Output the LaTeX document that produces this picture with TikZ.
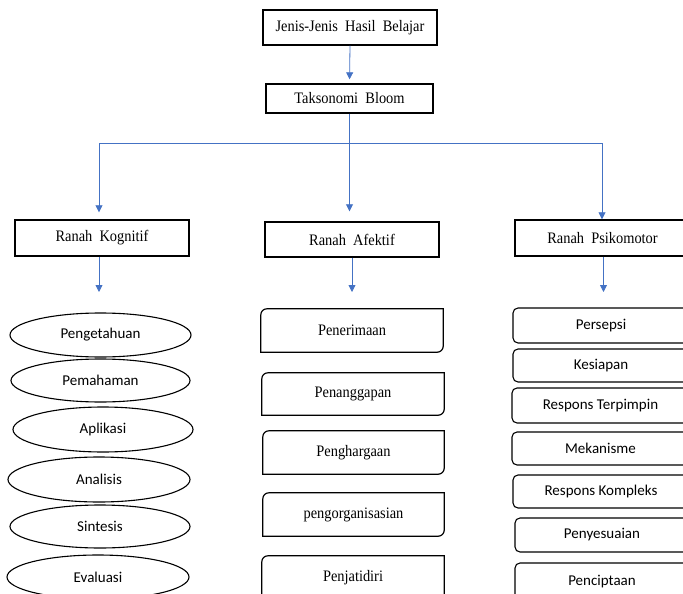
\documentclass[tikz,border=0pt]{standalone}
\usepackage{fontspec}
\setmainfont{Liberation Serif}[FakeStretch=0.9]
\newfontfamily\calibri{Carlito}
\usetikzlibrary{shapes.geometric,arrows.meta}
\definecolor{connblue}{RGB}{68,114,196}
\begin{document}
\begin{tikzpicture}[x=1pt,y=-1pt,
  serifbox/.style={draw=black,line width=1.4pt,inner sep=0pt,font=\fontsize{16}{18}\selectfont},
  ovalnode/.style={ellipse,draw=black,line width=1.1pt,inner sep=0pt,font=\calibri\fontsize{15}{17}\selectfont},
  diagnode/.style={draw=none,inner sep=0pt,font=\fontsize{16}{18}\selectfont},
  diagline/.style={draw=black,line width=1.2pt,rounded corners=6pt,line cap=rect},
  roundnode/.style={draw=black,line width=1.1pt,rounded corners=5pt,inner sep=0pt,font=\calibri\fontsize{15}{17}\selectfont},
  link/.style={draw=connblue,line width=0.8pt},
  arrowlink/.style={link,-{Triangle[width=7pt,length=7pt]}},
]
\useasboundingbox (0,0) rectangle (683,594);
\clip (0,0) rectangle (683,594);

% top
\node[serifbox,minimum width=174pt,minimum height=35pt] (jenis) at (350,27.5) {Jenis-Jenis~ Hasil~ Belajar};
\node[serifbox,minimum width=167pt,minimum height=29pt] (takso) at (349.5,98.5) {Taksonomi~ Bloom};

% domains
\node[serifbox,minimum width=174pt,minimum height=36pt] (kog) at (102,238) {Ranah~ Kognitif};
\node[serifbox,minimum width=174pt,minimum height=35pt] (afek) at (352,239.5) {Ranah~ Afektif};
\node[serifbox,minimum width=175pt,minimum height=36pt] (psi) at (602.5,238) {Ranah~ Psikomotor};

% bus coordinates
\coordinate (bL) at (99,143);
\coordinate (bM) at (349.5,143);
\coordinate (bR) at (602,143);
\coordinate (kogEnd) at (99,292);
\coordinate (afekEnd) at (352,292);
\coordinate (psiEnd) at (603.5,292);

% connectors
\draw[arrowlink,shorten >=4pt] (jenis.south) -- (takso.south |- takso.north);
\draw[link] (takso.south) -- (bM);
\draw[link] (bL) -- (bR);
\draw[arrowlink,shorten >=7pt] (bL) -- (bL |- kog.north);
\draw[arrowlink,shorten >=10pt] (bM) -- (bM |- afek.north);
\draw[arrowlink] (bR) -- (bR |- psi.north);
\draw[arrowlink] (kogEnd |- kog.south) -- (kogEnd);
\draw[arrowlink] (afekEnd |- afek.south) -- (afekEnd);
\draw[arrowlink] (psiEnd |- psi.south) -- (psiEnd);

% cognitive ellipses
\node[ovalnode,minimum width=181pt,minimum height=44pt] (c1) at (100.5,335) {Pengetahuan};
\node[ovalnode,minimum width=179pt,minimum height=43pt] (c2) at (100.5,380.5) {Pemahaman};
\node[ovalnode,minimum width=180pt,minimum height=45pt] (c3) at (103,429.5) {Aplikasi};
\node[ovalnode,minimum width=182pt,minimum height=45pt] (c4) at (99,479.5) {Analisis};
\node[ovalnode,minimum width=180pt,minimum height=43pt] (c5) at (100,526.5) {Sintesis};
\node[ovalnode,minimum width=182pt,minimum height=44pt] (c6) at (98,577) {Evaluasi};

% affective boxes
\node[diagnode,minimum width=182pt,minimum height=43pt] (a1) at (352,330.5) {Penerimaan};
\node[diagnode,minimum width=182pt,minimum height=42pt] (a2) at (353,394) {Penanggapan};
\node[diagnode,minimum width=181pt,minimum height=43pt] (a3) at (353.5,452.5) {Penghargaan};
\node[diagnode,minimum width=181pt,minimum height=43pt] (a4) at (353.5,514.5) {pengorganisasian};
\node[diagnode,minimum width=182pt,minimum height=44pt] (a5) at (353,578) {Penjatidiri};
\foreach \n in {a1,a2,a3,a4,a5}{
  \draw[diagline] (\n.south west) -- (\n.north west) -- (\n.north east);
  \draw[diagline] (\n.north east) -- (\n.south east) -- (\n.south west);
}

% psychomotor boxes
\node[roundnode,minimum width=176pt,minimum height=35pt] (p1) at (601,325.5) {Persepsi};
\node[roundnode,minimum width=176pt,minimum height=33pt] (p2) at (601,365.5) {Kesiapan};
\node[roundnode,minimum width=177pt,minimum height=35pt] (p3) at (600.5,405.5) {Respons Terpimpin};
\node[roundnode,minimum width=177pt,minimum height=33pt] (p4) at (600.5,448.5) {Mekanisme};
\node[roundnode,minimum width=176pt,minimum height=33pt] (p5) at (601,491.5) {Respons Kompleks};
\node[roundnode,minimum width=174pt,minimum height=34pt] (p6) at (602,535) {Penyesuaian};
\node[roundnode,minimum width=174pt,minimum height=37pt] (p7) at (602,581.5) {Penciptaan};
\end{tikzpicture}
\end{document}
